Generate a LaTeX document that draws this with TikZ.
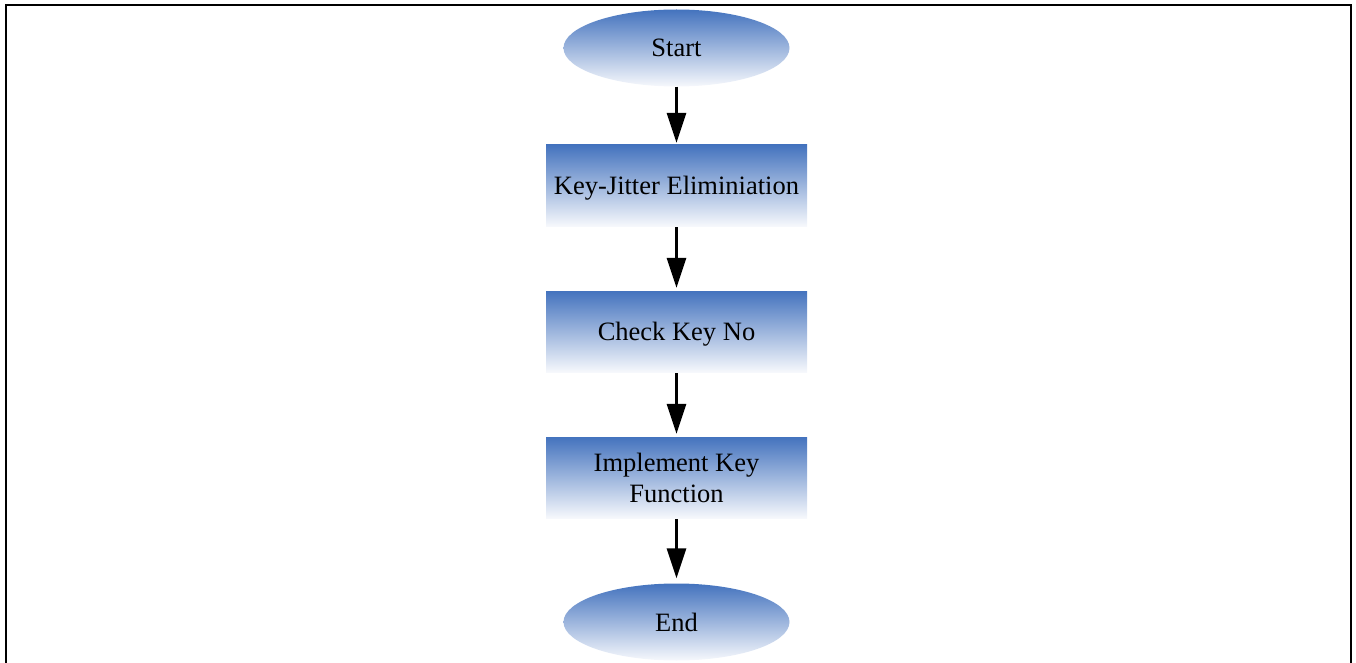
\documentclass[tikz,border=0pt]{standalone}
\usepackage{fontspec}
\setmainfont{Liberation Serif}
\usetikzlibrary{arrows.meta,shapes.geometric}
\definecolor{flowblue}{RGB}{68,115,190}
\definecolor{flowpale}{RGB}{246,248,252}
\newcommand{\lowertext}[1]{\raisebox{-2.5pt}[\height][\depth]{#1}}
\tikzset{
  flowshade/.style={top color=flowblue, bottom color=flowpale, draw=none},
  procbox/.style={flowshade, rectangle, minimum width=261pt, minimum height=81pt,
    inner sep=0pt, align=center, font=\fontsize{26.5pt}{31pt}\selectfont},
  terminal/.style={flowshade, ellipse, minimum width=226pt, minimum height=77pt,
    inner sep=0pt, font=\fontsize{26.5pt}{31pt}\selectfont},
  flowarrow/.style={line width=3pt, -{Triangle[width=19pt,length=30pt]}},
  framerule/.style={line width=2pt}
}
\begin{document}
\begin{tikzpicture}[x=1pt,y=-1pt]
  \useasboundingbox (0,0) rectangle (1356,663);
  % outer frame, open at the bottom
  \draw[framerule] (6,663) -- (6,5) -- (1351,5) -- (1351,663);

  % flow steps
  \node[terminal] (start) at (676.5,48) {Start};
  \node[procbox] (jitter) at (676.5,185.5) {\lowertext{Key-Jitter Eliminiation}};
  \node[procbox] (check) at (676.5,331.5) {\lowertext{Check Key No}};
  \node[procbox] (impl) at (676.5,477.5) {Implement Key\\Function};
  \node[terminal] (finish) at (676.5,622) {End};

  % connectors
  \draw[flowarrow] (start.south) -- ([yshift=2pt]jitter.north);
  \draw[flowarrow] ([yshift=-1pt]jitter.south) -- ([yshift=3pt]check.north);
  \draw[flowarrow] ([yshift=-1pt]check.south) -- ([yshift=3pt]impl.north);
  \draw[flowarrow] ([yshift=-1pt]impl.south) -- ([yshift=5pt]finish.north);
\end{tikzpicture}
\end{document}
